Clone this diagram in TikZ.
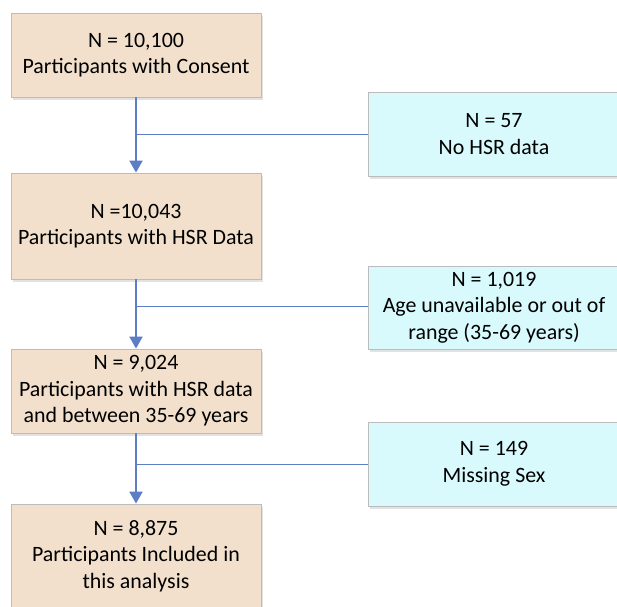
\documentclass[tikz,border=0pt]{standalone}
\usepackage{fontspec}
\setmainfont{Carlito}
\usetikzlibrary{arrows.meta,shadows}
\definecolor{beige}{RGB}{242,224,204}
\definecolor{lcyan}{RGB}{216,250,253}
\definecolor{bordergray}{RGB}{188,188,188}
\definecolor{linkblue}{RGB}{91,126,196}
\tikzset{
  box/.style={draw=bordergray, line width=0.8pt, align=center, inner sep=0pt,
    font=\fontsize{21.9}{26.5}\selectfont,
    drop shadow={shadow xshift=1.5pt, shadow yshift=-2.5pt, fill=black!25, opacity=0.45}},
  mainbox/.style={box, fill=beige, minimum width=250pt},
  sidebox/.style={box, fill=lcyan, minimum width=252pt},
  flow/.style={draw=linkblue, line width=2pt, -{Triangle[width=13pt,length=12pt]}},
  side/.style={draw=linkblue, line width=1pt}
}
\begin{document}
\begin{tikzpicture}[x=1pt,y=-1pt]
\useasboundingbox (0,0) rectangle (617,606);
\node[mainbox, minimum height=84pt] (b1) at (136,55) {N = 10,100\\Participants with Consent};
\node[mainbox, minimum height=106pt] (b2) at (136,226) {N =10,043\\Participants with HSR Data};
\node[mainbox, minimum height=84pt] (b3) at (136,391) {N = 9,024\\Participants with HSR data\\and between 35-69 years};
\node[mainbox, minimum height=104pt] (b4) at (136,556) {N = 8,875\\Participants Included in\\this analysis};
\node[sidebox, minimum height=84pt] (r1) at (494,134) {N = 57\\No HSR data};
\node[sidebox, minimum height=83pt] (r2) at (494,307.5) {N = 1,019\\Age unavailable or out of\\range (35-69 years)};
\node[sidebox, minimum height=84pt] (r3) at (494,464) {N = 149\\Missing Sex};
\coordinate (j1) at (136,134);
\coordinate (j2) at (136,306);
\coordinate (j3) at (136,464);
\draw[flow] (b1) -- (b2);
\draw[flow] (b2) -- (b3);
\draw[flow] (b3) -- (b4);
\draw[side] (j1) -- (r1.west);
\draw[side] (j2) -- (j2 -| r2.west);
\draw[side] (j3) -- (r3.west);
\end{tikzpicture}
\end{document}
